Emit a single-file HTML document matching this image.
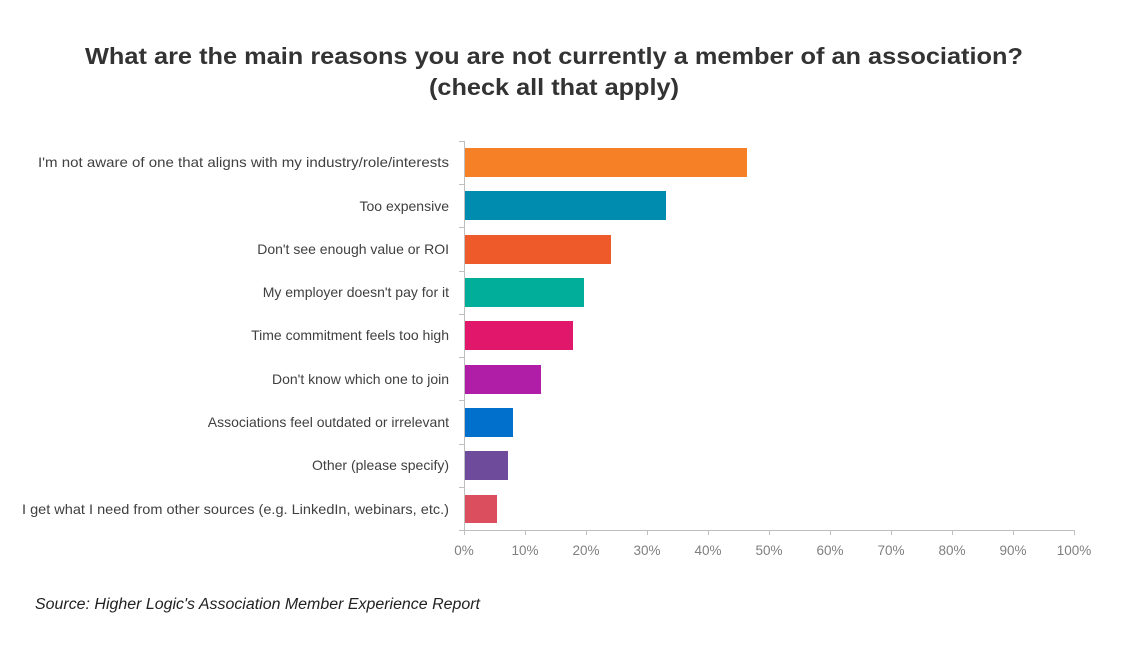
<!DOCTYPE html>
<html><head><meta charset="utf-8"><style>body{margin:0;background:#fff}svg{display:block}</style></head>
<body>
<svg width="1123" height="650" xmlns="http://www.w3.org/2000/svg" font-family="Liberation Sans, Arial, sans-serif">
<rect width="1123" height="650" fill="#fff"/>
<text x="554" y="64" text-anchor="middle" font-size="23" font-weight="bold" fill="#333" textLength="938" lengthAdjust="spacingAndGlyphs">What are the main reasons you are not currently a member of an association?</text>
<text x="554" y="95" text-anchor="middle" font-size="23" font-weight="bold" fill="#333" textLength="250" lengthAdjust="spacingAndGlyphs">(check all that apply)</text>
<g stroke="#bfbfbf" stroke-width="1">
<line x1="464.5" y1="141" x2="464.5" y2="531"/>
<line x1="464" y1="530.5" x2="1075" y2="530.5"/>
<line x1="459" y1="141.5" x2="464" y2="141.5"/>
<line x1="459" y1="184.5" x2="464" y2="184.5"/>
<line x1="459" y1="227.5" x2="464" y2="227.5"/>
<line x1="459" y1="271.5" x2="464" y2="271.5"/>
<line x1="459" y1="314.5" x2="464" y2="314.5"/>
<line x1="459" y1="357.5" x2="464" y2="357.5"/>
<line x1="459" y1="400.5" x2="464" y2="400.5"/>
<line x1="459" y1="444.5" x2="464" y2="444.5"/>
<line x1="459" y1="487.5" x2="464" y2="487.5"/>
<line x1="459" y1="530.5" x2="464" y2="530.5"/>
<line x1="464.5" y1="530" x2="464.5" y2="535"/>
<line x1="525.5" y1="530" x2="525.5" y2="535"/>
<line x1="586.5" y1="530" x2="586.5" y2="535"/>
<line x1="647.5" y1="530" x2="647.5" y2="535"/>
<line x1="708.5" y1="530" x2="708.5" y2="535"/>
<line x1="769.5" y1="530" x2="769.5" y2="535"/>
<line x1="830.5" y1="530" x2="830.5" y2="535"/>
<line x1="891.5" y1="530" x2="891.5" y2="535"/>
<line x1="952.5" y1="530" x2="952.5" y2="535"/>
<line x1="1013.5" y1="530" x2="1013.5" y2="535"/>
<line x1="1074.5" y1="530" x2="1074.5" y2="535"/>
</g>
<g>
<rect x="465" y="148" width="282" height="29" fill="#F58025"/>
<rect x="465" y="191" width="201" height="29" fill="#008CAF"/>
<rect x="465" y="235" width="146" height="29" fill="#EF5A2A"/>
<rect x="465" y="278" width="119" height="29" fill="#00AE9A"/>
<rect x="465" y="321" width="108" height="29" fill="#E0176A"/>
<rect x="465" y="365" width="76" height="29" fill="#B01EA8"/>
<rect x="465" y="408" width="48" height="29" fill="#0070CC"/>
<rect x="465" y="451" width="43" height="29" fill="#6F4C9B"/>
<rect x="465" y="495" width="32" height="28" fill="#DB4E5E"/>
</g>
<g font-size="14" fill="#404040" text-anchor="end">
<text x="449" y="167" textLength="411" lengthAdjust="spacingAndGlyphs">I'm not aware of one that aligns with my industry/role/interests</text>
<text x="449" y="211">Too expensive</text>
<text x="449" y="254">Don't see enough value or ROI</text>
<text x="449" y="297">My employer doesn't pay for it</text>
<text x="449" y="340">Time commitment feels too high</text>
<text x="449" y="384">Don't know which one to join</text>
<text x="449" y="427">Associations feel outdated or irrelevant</text>
<text x="449" y="470">Other (please specify)</text>
<text x="449" y="514" textLength="427" lengthAdjust="spacingAndGlyphs">I get what I need from other sources (e.g. LinkedIn, webinars, etc.)</text>
</g>
<g font-size="13.5" fill="#7f7f7f" text-anchor="middle">
<text x="464" y="555">0%</text>
<text x="525" y="555">10%</text>
<text x="586" y="555">20%</text>
<text x="647" y="555">30%</text>
<text x="708" y="555">40%</text>
<text x="769" y="555">50%</text>
<text x="830" y="555">60%</text>
<text x="891" y="555">70%</text>
<text x="952" y="555">80%</text>
<text x="1013" y="555">90%</text>
<text x="1074" y="555">100%</text>
</g>
<text x="35" y="609" font-size="15.5" font-style="italic" fill="#222" textLength="445" lengthAdjust="spacingAndGlyphs">Source: Higher Logic's Association Member Experience Report</text>
</svg>
</body></html>
